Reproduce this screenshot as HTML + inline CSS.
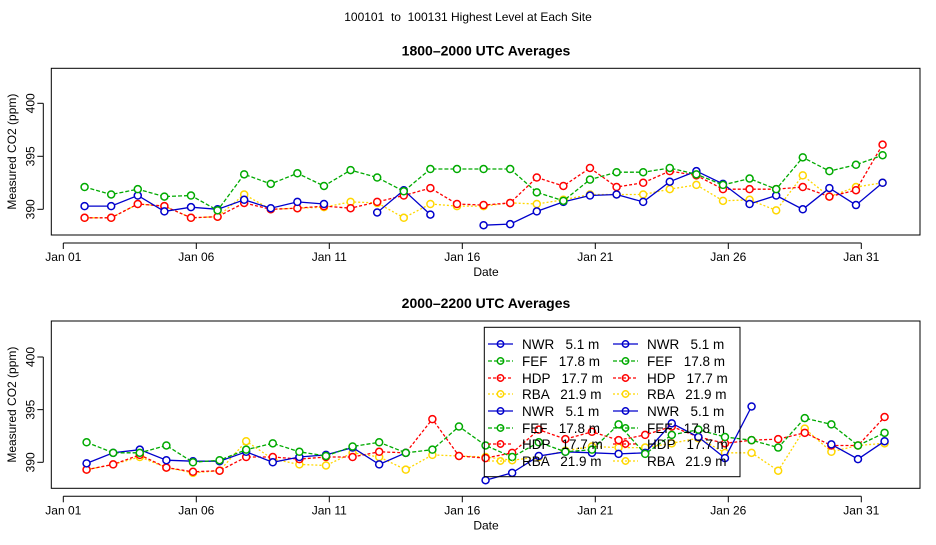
<!DOCTYPE html>
<html><head><meta charset="utf-8"><style>
body{margin:0;background:#fff;}
svg text{font-family:"Liberation Sans",sans-serif;white-space:pre;}
</style></head><body>
<svg id="chart" width="936" height="540" xmlns="http://www.w3.org/2000/svg" xml:space="preserve">
<text x="468" y="21" font-size="12" text-anchor="middle">100101  to  100131 Highest Level at Each Site</text>
</svg>
<script>
const days=[1,2,3,4,5,6,7,8,9,10,11,12,13,14,15,16,17,18,19,20,21,22,23,24,25,26,27,28,29,30,31];
const xTickLabels=["Jan 01","Jan 06","Jan 11","Jan 16","Jan 21","Jan 26","Jan 31"];
const xTickDays=[1,6,11,16,21,26,31];
const yTicks=[390,395,400];
const seriesNames=["NWR","FEF","HDP","RBA"];
const seriesColors=["#0000cc","#00aa00","#ff0000","#ffd700"];
const top_NWR=[390.3,390.3,391.3,389.8,390.2,390,390.9,390.1,390.7,390.5,null,389.7,391.8,389.5,null,388.5,388.6,389.8,390.7,391.3,391.4,390.7,392.6,393.6,392.4,390.5,391.3,390,392,390.4,392.5];
const top_FEF=[392.1,391.4,391.9,391.2,391.3,389.9,393.3,392.4,393.4,392.2,393.7,393.0,391.7,393.8,393.8,393.8,393.8,391.6,390.8,392.8,393.5,393.5,393.9,393.3,392.3,392.9,391.9,394.9,393.6,394.2,395.1];
const top_HDP=[389.2,389.2,390.5,390.3,389.2,389.3,390.6,390,390.1,390.3,390.1,390.7,391.3,392.0,390.5,390.4,390.6,393.0,392.2,393.9,392.1,392.5,393.6,393.2,391.9,391.9,391.9,392.1,391.2,391.8,396.1];
const top_RBA=[389.2,389.2,390.5,390.3,389.2,389.3,391.4,390,390.1,390.2,390.7,390.6,389.2,390.5,390.3,390.3,390.6,390.5,390.9,391.4,391.4,391.4,391.9,392.3,390.8,390.9,389.9,393.2,391.2,392.1,392.5];
const bot_NWR=[389.9,390.9,391.2,390.2,390.1,390.1,391,390,390.5,390.7,391.4,389.8,390.9,null,null,388.3,389,390.6,391,390.9,390.8,390.9,393.7,392.4,390.4,395.3,null,null,391.7,390.3,392];
const bot_FEF=[391.9,390.9,390.9,391.6,390,390.2,391.2,391.8,391,390.6,391.5,391.9,390.9,391.2,393.4,391.6,390.5,391.9,391,391.2,393.6,390.8,392.6,393.1,392.4,392.1,391.4,394.2,393.6,391.6,392.8];
const bot_HDP=[389.3,389.8,390.7,389.5,389.1,389.2,390.5,390.5,390.3,390.5,390.5,391,390.9,394.1,390.6,390.4,390.9,393.1,392.2,392.9,392.1,392.6,393.4,392.4,391.8,392.1,392.2,392.8,391.6,391.6,394.3];
const bot_RBA=[389.3,389.8,390.5,389.5,389,389.2,392,390.3,389.8,389.7,390.9,390.5,389.3,390.7,390.6,390.5,390.2,390.5,391.1,391.5,391.4,391.4,391.8,392.3,390.9,390.9,389.2,393.2,391,391.6,391.8];
const legendLabels=["NWR   5.1 m","FEF   17.8 m","HDP   17.7 m","RBA   21.9 m"];

const NS="http://www.w3.org/2000/svg";
const svg=document.getElementById('chart');
function mk(tag,attrs,parent){const e=document.createElementNS(NS,tag);for(const k in attrs)e.setAttribute(k,attrs[k]);(parent||svg).appendChild(e);return e;}
const dashes=["none","4,2","3,2","2,2"];
const X0=51.3,X1=920,xJan1=63.3,pxDay=26.6;
function xs(d){return xJan1+(d-1)*pxDay;}

function panel(cfg){
  const g=mk('g',{});
  
  
  const ys=v=>cfg.y390-(v-390)*cfg.ppm;
  const t=mk('text',{x:486,y:cfg.top-13,'font-size':14,'font-weight':'bold','text-anchor':'middle'},g);
  t.textContent=cfg.title;
  
  
  const box=mk('rect',{x:X0,y:cfg.top,width:X1-X0,height:cfg.bottom-cfg.top,fill:'none',stroke:'#000','stroke-width':1},g);
  
  
  mk('line',{x1:xs(1),x2:xs(31),y1:cfg.bottom+8,y2:cfg.bottom+8,stroke:'#000'},g);
  xTickDays.forEach((d,i)=>{
    mk('line',{x1:xs(d),x2:xs(d),y1:cfg.bottom+8,y2:cfg.bottom+14,stroke:'#000'},g);
    const tl=mk('text',{x:xs(d),y:cfg.bottom+26,'font-size':12,'text-anchor':'middle'},g);
    tl.textContent=xTickLabels[i];
    
    
  });
  mk('line',{x1:X0-8,x2:X0-8,y1:ys(390),y2:ys(400),stroke:'#000'},g);
  yTicks.forEach(v=>{
    mk('line',{x1:X0-14,x2:X0-8,y1:ys(v),y2:ys(v),stroke:'#000'},g);
    const tl=mk('text',{x:0,y:0,'font-size':12,'text-anchor':'middle',transform:`translate(${X0-17},${ys(v)}) rotate(-90)`},g);
    tl.textContent=v;
    
    
  });
  const yl=mk('text',{x:0,y:0,'font-size':12,'text-anchor':'middle',transform:`translate(16,${(cfg.top+cfg.bottom)/2}) rotate(-90)`},g);
  yl.textContent='Measured CO2 (ppm)';
  
  
  const xl=mk('text',{x:486,y:cfg.bottom+41,'font-size':12,'text-anchor':'middle'},g);
  xl.textContent='Date';
  
  
  const order=[3,2,0,1];
  order.forEach(si=>{
    const vals=cfg.series[si];
    const sg=mk('g',{},g);
    
    
    let d='',pen=false;
    vals.forEach((v,i)=>{
      if(v===null){pen=false;return;}
      const x=xs(days[i]+cfg.off),y=ys(v);
      d+=(pen?'L':'M')+x.toFixed(1)+','+y.toFixed(1);pen=true;
    });
    mk('path',{d:d,fill:'none',stroke:seriesColors[si],'stroke-width':1.3,'stroke-dasharray':dashes[si]},sg);
    vals.forEach((v,i)=>{
      if(v===null)return;
      const c=mk('circle',{cx:xs(days[i]+cfg.off),cy:ys(v),r:3.5,fill:'#fff',stroke:seriesColors[si],'stroke-width':1.5},sg);
      
      
    });
  });
}
panel({name:'panel-1800-2000',title:'1800\u20132000 UTC Averages',top:68.3,bottom:235,y390:209.3,ppm:10.6,off:0.8,series:[top_NWR,top_FEF,top_HDP,top_RBA]});
panel({name:'panel-2000-2200',title:'2000\u20132200 UTC Averages',top:321,bottom:488.3,y390:462.3,ppm:10.53,off:0.875,series:[bot_NWR,bot_FEF,bot_HDP,bot_RBA]});

const lg=mk('g',{});


mk('rect',{x:484.3,y:327.3,width:255.7,height:149.4,fill:'none',stroke:'#000'},lg);
const rowY=[344,361,378,394,411,428,444,461];
for(let col=0;col<2;col++){
  for(let r=0;r<8;r++){
    const si=r%4, x0=488+col*125, y=rowY[r];
    const e=mk('g',{},lg);
    
    
    mk('line',{x1:x0,x2:x0+25,y1:y,y2:y,stroke:seriesColors[si],'stroke-width':1.3,'stroke-dasharray':dashes[si]},e);
    mk('circle',{cx:x0+12.5,cy:y,r:3.2,fill:'none',stroke:seriesColors[si],'stroke-width':1.5},e);
    const t=mk('text',{x:x0+34,y:y+5,'font-size':13.5},e);
    t.textContent=legendLabels[si];
  }
}
</script>
</body></html>
